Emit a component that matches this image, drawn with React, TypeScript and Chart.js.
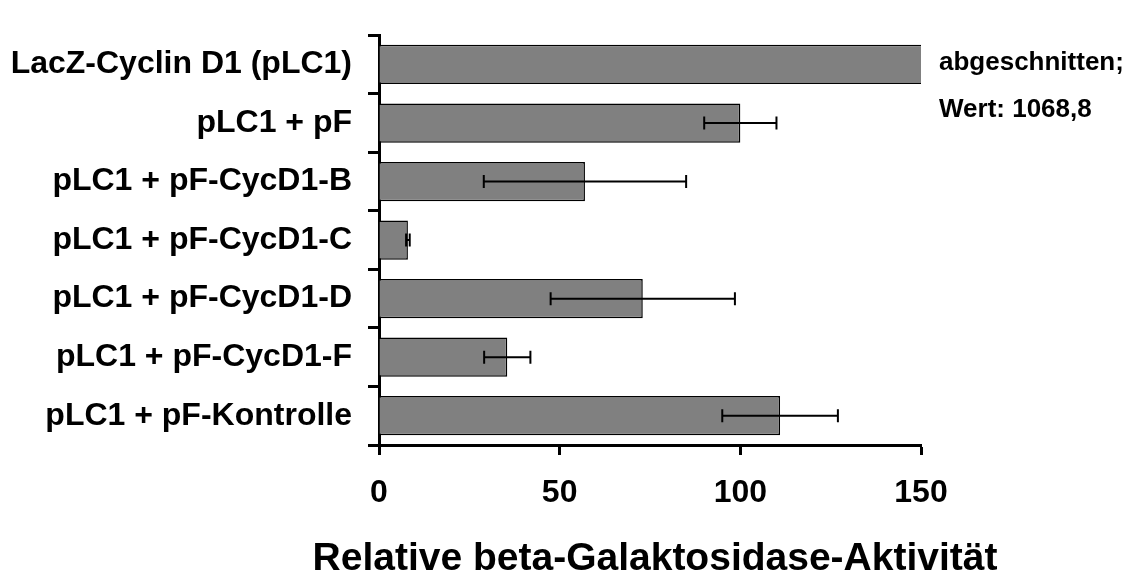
import React, { useEffect, useRef } from "react";
import { Chart, registerables } from "chart.js";

Chart.register(...registerables);

const categories = [
  "LacZ-Cyclin D1 (pLC1)",
  "pLC1 + pF",
  "pLC1 + pF-CycD1-B",
  "pLC1 + pF-CycD1-C",
  "pLC1 + pF-CycD1-D",
  "pLC1 + pF-CycD1-F",
  "pLC1 + pF-Kontrolle",
];
const activity = [1068.8, 100, 57, 8, 73, 35.5, 111];
const errors: (number | null)[] = [null, 10, 28, 0.5, 25.5, 6.4, 16];
const xTicks = [0, 50, 100, 150];
const xTitle = "Relative beta-Galaktosidase-Aktivität";
const cutNote = ["abgeschnitten;", "Wert: 1068,8"];

const FONT = '"Liberation Sans", Arial, Helvetica, sans-serif';

const errorBarPlugin = {
  id: "errorBars",
  afterDatasetsDraw(chart: any) {
    const { ctx, scales } = chart;
    const x = scales.x;
    const y = scales.y;
    ctx.save();
    ctx.strokeStyle = "#000";
    ctx.lineWidth = 2;
    errors.forEach((e, i) => {
      if (e == null) return;
      const v = activity[i];
      const yc = y.getPixelForValue(i);
      const x1 = x.getPixelForValue(v - e);
      const x2 = x.getPixelForValue(v + e);
      const h = 6.5;
      ctx.beginPath();
      ctx.moveTo(x1, yc);
      ctx.lineTo(x2, yc);
      ctx.moveTo(x1, yc - h);
      ctx.lineTo(x1, yc + h);
      ctx.moveTo(x2, yc - h);
      ctx.lineTo(x2, yc + h);
      ctx.stroke();
    });
    ctx.restore();
  },
};

const textPlugin = {
  id: "extraText",
  afterDraw(chart: any) {
    const { ctx, chartArea } = chart;
    ctx.save();
    ctx.fillStyle = "#000";
    ctx.textBaseline = "alphabetic";
    // note next to the truncated bar
    ctx.font = `bold 26px ${FONT}`;
    ctx.textAlign = "left";
    const xx = chartArea.right + 18;
    ctx.fillText(cutNote[0], xx, chartArea.top + 35);
    ctx.fillText(cutNote[1], xx, chartArea.top + 82);
    // axis title (wider than the plot area, so drawn unscaled here)
    ctx.font = `bold 39px ${FONT}`;
    ctx.textAlign = "center";
    ctx.fillText(xTitle, (chartArea.left + chartArea.right) / 2 + 5, chart.height - 4);
    ctx.restore();
  },
};

export default function App() {
  const ref = useRef<HTMLCanvasElement | null>(null);

  useEffect(() => {
    if (!ref.current) return;
    const chart = new Chart(ref.current, {
      type: "bar",
      data: {
        labels: categories,
        datasets: [
          {
            data: activity,
            backgroundColor: "#808080",
            borderColor: "#000",
            borderWidth: 1.5,
            barPercentage: 0.67,
            categoryPercentage: 1,
            clip: 0,
          } as any,
        ],
      },
      options: {
        indexAxis: "y",
        animation: false,
        responsive: false,
        events: [],
        layout: { padding: { top: 15, right: 212, bottom: 0, left: 0 } },
        plugins: {
          legend: { display: false },
          tooltip: { enabled: false },
        },
        scales: {
          x: {
            type: "linear",
            min: 0,
            max: 150,
            afterBuildTicks: (s: any) => {
              s.ticks = xTicks.map((v) => ({ value: v }));
            },
            ticks: {
              color: "#000",
              font: { family: FONT, size: 32, weight: "bold" },
              padding: 19,
              maxRotation: 0,
            },
            grid: {
              drawOnChartArea: false,
              drawTicks: true,
              tickLength: 10,
              tickWidth: 3,
              tickColor: "#000",
            },
            border: { display: true, color: "#000", width: 3 },
            afterFit: (s: any) => {
              s.height = 129;
            },
          },
          y: {
            type: "category",
            offset: true,
            grid: {
              offset: true,
              drawOnChartArea: false,
              drawTicks: true,
              tickLength: 11,
              tickWidth: 3,
              tickColor: "#000",
            },
            border: { display: true, color: "#000", width: 3 },
            ticks: {
              color: "#000",
              font: { family: FONT, size: 32, weight: "bold" },
              padding: 16,
              autoSkip: false,
            },
            afterFit: (s: any) => {
              s.width = 379;
            },
          },
        },
      } as any,
      plugins: [errorBarPlugin, textPlugin],
    });
    return () => chart.destroy();
  }, []);

  return (
    <div style={{ position: "fixed", left: 0, top: 0, width: 1133, height: 574, background: "#fff" }}>
      <canvas ref={ref} width={1133} height={574} style={{ display: "block" }} />
    </div>
  );
}
